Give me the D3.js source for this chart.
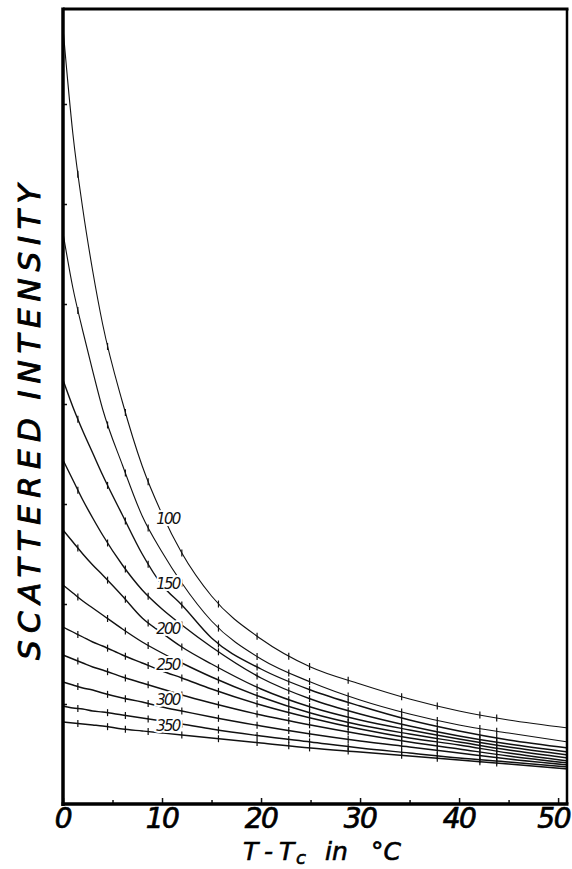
<!DOCTYPE html>
<html>
<head>
<meta charset="utf-8">
<script src="https://cdn.jsdelivr.net/npm/d3@7"></script>
<style>
  body { margin: 0; background: #fff; }
  svg { display: block; }
</style>
</head>
<body>
<div id="chart"></div>
<script>
// temperature grid (T - Tc, in C) at which the curves were read
var tGrid = [0, 1, 2, 3, 4, 6, 8, 10, 12, 15, 20, 25, 30, 35, 40, 45, 51];

// scattered intensity (arbitrary units) for each scattering angle curve
var int100 = [7.76, 6.70, 5.95, 5.33, 4.80, 4.02, 3.38, 2.90, 2.51, 2.08, 1.65, 1.37, 1.20, 1.05, 0.93, 0.84, 0.76];
var int125 = [5.71, 5.16, 4.73, 4.33, 3.95, 3.39, 2.88, 2.52, 2.21, 1.83, 1.45, 1.22, 1.04, 0.90, 0.79, 0.71, 0.62];
var int150 = [4.24, 3.97, 3.73, 3.51, 3.29, 2.89, 2.50, 2.19, 1.99, 1.66, 1.35, 1.14, 0.98, 0.84, 0.73, 0.64, 0.56];
var int175 = [3.44, 3.24, 3.04, 2.86, 2.69, 2.39, 2.14, 1.95, 1.79, 1.57, 1.26, 1.05, 0.90, 0.78, 0.68, 0.60, 0.52];
var int200 = [2.74, 2.62, 2.50, 2.39, 2.29, 2.08, 1.86, 1.71, 1.57, 1.40, 1.15, 0.97, 0.84, 0.74, 0.65, 0.57, 0.49];
var int225 = [2.19, 2.11, 2.03, 1.96, 1.89, 1.75, 1.62, 1.51, 1.41, 1.27, 1.07, 0.91, 0.79, 0.70, 0.62, 0.54, 0.46];
var int250 = [1.77, 1.72, 1.67, 1.62, 1.58, 1.49, 1.41, 1.33, 1.26, 1.15, 0.99, 0.86, 0.75, 0.66, 0.59, 0.51, 0.43];
var int275 = [1.49, 1.45, 1.41, 1.37, 1.34, 1.27, 1.21, 1.15, 1.09, 1.01, 0.89, 0.79, 0.70, 0.62, 0.55, 0.48, 0.41];
var int300 = [1.22, 1.19, 1.16, 1.14, 1.11, 1.06, 1.02, 0.97, 0.93, 0.87, 0.78, 0.70, 0.63, 0.57, 0.51, 0.45, 0.39];
var int325 = [0.98, 0.96, 0.95, 0.93, 0.92, 0.89, 0.86, 0.83, 0.80, 0.75, 0.68, 0.62, 0.56, 0.51, 0.46, 0.42, 0.37];
var int350 = [0.82, 0.81, 0.80, 0.79, 0.78, 0.75, 0.73, 0.71, 0.69, 0.66, 0.61, 0.56, 0.52, 0.48, 0.44, 0.40, 0.35];

var curveKeys = [100, 125, 150, 175, 200, 225, 250, 275, 300, 325, 350];
var curveValues = [int100, int125, int150, int175, int200, int225, int250, int275, int300, int325, int350];
var labelKeys = [100, 150, 200, 250, 300, 350];

// temperatures of the measured points (error bar ticks)
var measureTemps = [1.5, 4.5, 6.3, 8.6, 12.0, 15.7, 19.6, 22.8, 24.9, 28.8, 34.2, 37.8, 42.1, 43.8];

var xMajor = [0, 10, 20, 30, 40, 50];
var xMinor = [5, 15, 25, 35, 45];
var yTicks = [1, 2, 3, 4, 5, 6, 7];

//sizes
var width = 572;
var height = 869;
var frame = {'left': 63, 'top': 9, 'right': 567, 'bottom': 804};

var svg = d3.select('#chart')
    .append('svg')
    .attr('width', width)
    .attr('height', height);

svg.append('rect')
    .attr('width', width)
    .attr('height', height)
    .attr('fill', '#fff');

var x = d3.scaleLinear().domain([0, 51]).range([frame.left, frame.right + 1]);
var y = d3.scaleLinear().domain([0, 7.95]).range([frame.bottom, frame.top]);

var line = d3.line()
    .x(function(d){ return x(d[0]); })
    .y(function(d){ return y(d[1]); })
    .curve(d3.curveMonotoneX);

var curves = curveKeys.map(function(key, i){
    return {'key': key, 'points': tGrid.map(function(t, j){ return [t, curveValues[i][j]]; })};
});

var curveGroup = svg.append('g').attr('class', 'curves');

var paths = curveGroup.selectAll('path')
    .data(curves)
    .enter()
    .append('path')
    .attr('d', function(d){ return line(d.points); })
    .attr('fill', 'none')
    .attr('stroke', '#111')
    .attr('stroke-width', function(d, i){ return i < 2 ? 1.1 : 1.4; });

//find the y pixel of a drawn path at a given x pixel
function yOnPath(node, px){
    var lo = 0, hi = node.getTotalLength();
    for (var k = 0; k < 30; k++){
        var mid = (lo + hi) / 2;
        if (node.getPointAtLength(mid).x < px) lo = mid; else hi = mid;
    }
    return node.getPointAtLength((lo + hi) / 2).y;
}

//error bar ticks on every curve
paths.each(function(d){
    var node = this;
    measureTemps.forEach(function(t){
        var px = x(t);
        var py = yOnPath(node, px);
        curveGroup.append('line')
            .attr('x1', px).attr('x2', px)
            .attr('y1', py - 3.5).attr('y2', py + 3.5)
            .attr('stroke', '#111')
            .attr('stroke-width', 1.2);
    });
});

//curve labels
paths.each(function(d){
    if (labelKeys.indexOf(d.key) < 0) return;
    var px = x(10.6);
    var py = yOnPath(this, px);
    svg.append('text')
        .attr('x', px)
        .attr('y', py - 3)
        .attr('text-anchor', 'middle')
        .attr('font-family', 'DejaVu Sans')
        .attr('font-style', 'italic')
        .attr('font-size', 15)
        .attr('letter-spacing', -1.8)
        .attr('stroke', '#fff')
        .attr('stroke-width', 4)
        .attr('paint-order', 'stroke')
        .attr('fill', '#111')
        .text(d.key);
});

//axes ticks
var xAxis = d3.axisBottom(x)
    .tickValues(xMajor)
    .tickSize(-6)
    .tickSizeOuter(0)
    .tickFormat('');
svg.append('g')
    .attr('transform', 'translate(0,' + frame.bottom + ')')
    .call(xAxis)
    .call(function(g){ g.select('.domain').remove(); })
    .selectAll('line').attr('stroke', '#111').attr('stroke-width', 1.5);

svg.append('g')
    .attr('transform', 'translate(0,' + frame.bottom + ')')
    .call(d3.axisBottom(x).tickValues(xMinor).tickSize(-4).tickSizeOuter(0).tickFormat(''))
    .call(function(g){ g.select('.domain').remove(); })
    .selectAll('line').attr('stroke', '#111').attr('stroke-width', 1.5);

svg.append('g')
    .attr('transform', 'translate(' + frame.left + ',0)')
    .call(d3.axisLeft(y).tickValues(yTicks).tickSize(-4).tickSizeOuter(0).tickFormat(''))
    .call(function(g){ g.select('.domain').remove(); })
    .selectAll('line').attr('stroke', '#111').attr('stroke-width', 1.5);

//frame
svg.append('line').attr('x1', frame.left).attr('x2', frame.left).attr('y1', frame.top - 1.5).attr('y2', frame.bottom + 2)
    .attr('stroke', '#000').attr('stroke-width', 3.5);
svg.append('line').attr('x1', frame.left - 1.5).attr('x2', frame.right + 1.5).attr('y1', frame.bottom).attr('y2', frame.bottom)
    .attr('stroke', '#000').attr('stroke-width', 3.5);
svg.append('line').attr('x1', frame.left).attr('x2', frame.right + 1.5).attr('y1', frame.top).attr('y2', frame.top)
    .attr('stroke', '#000').attr('stroke-width', 3);
svg.append('line').attr('x1', frame.right).attr('x2', frame.right).attr('y1', frame.top).attr('y2', frame.bottom)
    .attr('stroke', '#000').attr('stroke-width', 2.5);

//x tick labels (the last one is kept inside the picture)
svg.append('g').selectAll('text')
    .data(xMajor)
    .enter()
    .append('text')
    .attr('x', function(d, i){ return i === xMajor.length - 1 ? width - 2 : x(d); })
    .attr('y', 828)
    .attr('text-anchor', function(d, i){ return i === xMajor.length - 1 ? 'end' : 'middle'; })
    .attr('font-family', 'DejaVu Sans')
    .attr('font-style', 'italic')
    .attr('font-size', 28)
    .attr('letter-spacing', -1.5)
    .attr('stroke', '#000')
    .attr('stroke-width', 0.7)
    .attr('fill', '#000')
    .text(function(d){ return d; });

//x title
var xTitle = svg.append('text')
    .attr('y', 860)
    .attr('font-family', 'DejaVu Sans')
    .attr('font-style', 'italic')
    .attr('font-size', 25)
    .attr('stroke', '#000')
    .attr('stroke-width', 0.6)
    .attr('fill', '#000');
xTitle.append('tspan').attr('x', 243).text('T');
xTitle.append('tspan').attr('x', 264).text('-');
xTitle.append('tspan').attr('x', 279).text('T');
xTitle.append('tspan').attr('x', 296).attr('dy', 4).attr('font-size', 18).text('c');
xTitle.append('tspan').attr('x', 325).attr('dy', -4).text('in');
xTitle.append('tspan').attr('x', 371).text('°C');

//y title
var yTitle = [['SCATTERED', 539, 242], ['INTENSITY', 292, 215]];
yTitle.forEach(function(w){
    svg.append('text')
        .attr('transform', 'translate(40,' + w[1] + ') rotate(-90)')
        .attr('text-anchor', 'middle')
        .attr('font-family', 'DejaVu Sans')
        .attr('font-style', 'italic')
        .attr('font-size', 31)
        .attr('textLength', w[2])
        .attr('lengthAdjust', 'spacing')
        .attr('stroke', '#000')
        .attr('stroke-width', 0.9)
        .attr('fill', '#000')
        .text(w[0]);
});
</script>
</body>
</html>
